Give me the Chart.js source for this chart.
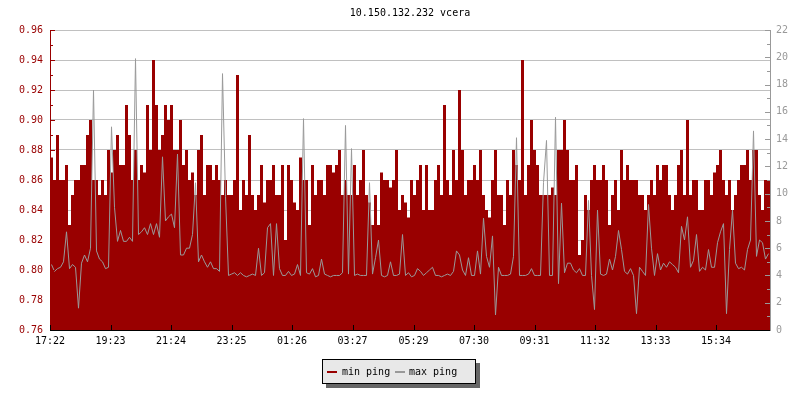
<!DOCTYPE html>
<html>
<head>
<meta charset="utf-8">
<script src="https://cdn.jsdelivr.net/npm/chart.js@4.4.1/dist/chart.umd.min.js"></script>
<style>
  html, body { margin: 0; padding: 0; background: #fff; }
  #wrap { position: relative; width: 800px; height: 400px; }
  #c { position: absolute; left: 0; top: 0; }
  #legend { position: absolute; left: 322px; top: 359px; width: 154px; height: 25px; box-sizing: border-box;
    border: 1px solid #000; background: #e8e8e8; box-shadow: 4px 4px 0 #666;
    font: 10px "DejaVu Sans Mono", monospace; color: #000; }
  #legend .sw { position: absolute; top: 11px; width: 10px; height: 2px; }
  #legend .tx { position: absolute; top: 0; line-height: 23px; white-space: pre; }
</style>
</head>
<body>
<div id="wrap">
  <canvas id="c" width="800" height="400"></canvas>
  <div id="legend">
    <span class="sw" style="left:4px;background:#990000"></span><span class="tx" style="left:19px">min ping</span>
    <span class="sw" style="left:72px;background:#999999"></span><span class="tx" style="left:86px">max ping</span>
  </div>
</div>
<script>
const chartTitle = '10.150.132.232 vcera';
const seriesNames = ['min ping', 'max ping'];
const tickLabels = ['17:22','19:23','21:24','23:25','01:26','03:27','05:29','07:30','09:31','11:32','13:33','15:34'];
const tickMinutes = [0,121,242,363,484,605,727,848,969,1090,1211,1332];
const totalMinutes = 1440;
const sampleMinutes = 6;

const minPing = [
  0.90,0.875,0.86,0.89,0.86,0.86,0.87,0.83,0.85,0.86,
  0.86,0.87,0.87,0.89,0.90,0.86,0.86,0.85,0.86,0.85,
  0.88,0.865,0.88,0.89,0.87,0.87,0.91,0.89,0.86,0.88,
  0.86,0.87,0.865,0.91,0.88,0.94,0.91,0.88,0.89,0.91,
  0.90,0.91,0.88,0.88,0.90,0.87,0.88,0.86,0.865,0.85,
  0.88,0.89,0.85,0.87,0.87,0.86,0.87,0.86,0.85,0.86,
  0.85,0.85,0.86,0.93,0.84,0.86,0.85,0.89,0.85,0.84,
  0.85,0.87,0.845,0.86,0.86,0.87,0.85,0.85,0.87,0.82,
  0.87,0.86,0.845,0.84,0.875,0.86,0.86,0.83,0.87,0.85,
  0.86,0.86,0.85,0.87,0.87,0.865,0.87,0.88,0.85,0.86,
  0.85,0.85,0.87,0.85,0.86,0.88,0.85,0.845,0.83,0.85,
  0.83,0.865,0.86,0.86,0.855,0.86,0.88,0.84,0.85,0.845,
  0.835,0.86,0.85,0.86,0.87,0.84,0.87,0.84,0.84,0.86,
  0.87,0.85,0.91,0.86,0.85,0.88,0.86,0.92,0.88,0.85,
  0.86,0.86,0.87,0.86,0.88,0.85,0.84,0.835,0.86,0.88,
  0.85,0.85,0.83,0.86,0.85,0.88,0.87,0.86,0.94,0.85,
  0.87,0.90,0.88,0.87,0.85,0.85,0.85,0.85,0.855,0.85,
  0.88,0.88,0.90,0.88,0.86,0.86,0.87,0.81,0.82,0.85,
  0.84,0.86,0.87,0.86,0.86,0.87,0.86,0.83,0.85,0.86,
  0.84,0.88,0.86,0.87,0.86,0.86,0.86,0.85,0.85,0.84,
  0.85,0.86,0.85,0.87,0.86,0.87,0.87,0.85,0.84,0.85,
  0.87,0.88,0.85,0.90,0.85,0.86,0.86,0.84,0.84,0.86,
  0.86,0.85,0.865,0.87,0.88,0.86,0.85,0.86,0.84,0.85,
  0.86,0.87,0.87,0.88,0.86,0.88,0.88,0.85,0.84,0.86
];

const maxPing = [
  4.8,4.3,4.5,4.6,5.0,7.2,4.5,4.8,4.6,1.6,
  4.9,5.5,5.0,6.0,17.6,5.8,5.2,5.0,4.5,4.6,
  14.9,9.0,6.5,7.3,6.5,6.5,6.8,6.5,19.9,7.0,
  7.2,7.5,7.0,7.8,7.0,7.8,6.8,12.7,8.0,8.3,
  8.5,7.5,12.9,5.5,5.5,6.0,6.0,7.0,10.8,5.0,
  5.5,5.0,4.6,5.0,4.5,4.5,4.3,18.8,9.8,4.0,
  4.1,4.2,4.0,4.2,4.0,3.9,4.0,4.1,4.0,6.0,
  4.0,4.2,7.5,7.8,4.0,7.8,4.5,4.0,4.0,4.3,
  4.0,4.1,4.8,4.0,15.5,4.2,4.1,4.5,3.9,4.0,
  5.2,4.1,4.0,3.9,4.0,4.0,4.0,4.2,15.0,4.1,
  13.3,4.0,4.1,4.0,4.0,4.0,10.8,4.1,5.3,6.6,
  4.0,3.9,4.0,5.0,4.0,4.0,4.1,7.0,4.0,4.2,
  3.9,4.0,4.5,4.3,4.0,4.2,4.4,4.6,4.0,4.0,
  3.9,4.0,4.1,4.0,4.3,5.8,5.5,4.4,4.0,5.3,
  4.0,4.0,5.8,4.1,8.2,5.4,4.6,6.9,1.1,4.6,
  4.0,4.0,4.0,4.1,5.4,14.1,4.0,4.0,4.0,4.1,
  4.5,4.0,4.0,4.0,10.8,13.9,4.0,4.0,15.6,3.4,
  9.3,4.2,4.9,4.9,4.4,4.2,4.5,4.0,4.0,9.5,
  4.0,1.5,8.8,4.1,4.0,4.1,5.2,4.4,5.4,7.3,
  5.9,4.3,4.1,4.5,4.0,1.2,4.6,4.3,4.0,9.2,
  6.0,4.0,5.6,4.4,4.9,4.6,5.0,4.8,4.6,4.2,
  7.6,6.6,8.3,4.6,5.1,7.0,4.3,4.6,4.4,5.9,
  4.6,4.6,6.4,7.2,7.8,1.2,5.9,8.8,4.9,4.5,
  4.6,4.4,5.9,6.6,14.6,5.4,6.6,6.4,5.2,5.6
];

const RED = '#990000', GRAY = '#999999', GRID = '#c0c0c0';
const FONT = '"DejaVu Sans Mono", monospace';

const minPoints = minPing.map((v, i) => ({ x: i * sampleMinutes, y: v }));
minPoints.push({ x: totalMinutes, y: minPing[minPing.length - 1] });
const maxPoints = maxPing.map((v, i) => ({ x: i * sampleMinutes + sampleMinutes / 2, y: v }));

const decor = {
  id: 'decor',
  afterDatasetsDraw(chart) {
    const { ctx, chartArea: a, scales } = chart;
    const { x, y, y2 } = scales;
    ctx.save();
    ctx.lineWidth = 1;
    // left axis minor/major ticks
    ctx.strokeStyle = RED;
    for (let k = 0; k <= 20; k++) {
      const py = Math.round(y.getPixelForValue(0.76 + k * 0.01)) + 0.5;
      const len = k % 2 === 0 ? 5 : 3;
      ctx.beginPath(); ctx.moveTo(a.left, py); ctx.lineTo(a.left + len, py); ctx.stroke();
    }
    ctx.beginPath(); ctx.moveTo(a.left + 0.5, a.top); ctx.lineTo(a.left + 0.5, a.bottom + 1); ctx.stroke();
    // right axis
    ctx.strokeStyle = GRAY;
    for (let k = 0; k <= 22; k++) {
      const py = Math.round(y2.getPixelForValue(k)) + 0.5;
      const len = k % 2 === 0 ? 5 : 3;
      ctx.beginPath(); ctx.moveTo(a.right, py); ctx.lineTo(a.right - len, py); ctx.stroke();
    }
    ctx.beginPath(); ctx.moveTo(a.right + 0.5, a.top); ctx.lineTo(a.right + 0.5, a.bottom + 1); ctx.stroke();
    // bottom axis
    ctx.strokeStyle = '#000';
    ctx.beginPath(); ctx.moveTo(a.left, a.bottom + 0.5); ctx.lineTo(a.right, a.bottom + 0.5); ctx.stroke();
    tickMinutes.forEach(m => {
      const px = Math.round(x.getPixelForValue(m)) + 0.5;
      ctx.beginPath(); ctx.moveTo(px, a.bottom); ctx.lineTo(px, a.bottom - 5); ctx.stroke();
    });
    ctx.restore();
  },
  afterDraw(chart) {
    const { ctx, chartArea: a } = chart;
    ctx.save();
    ctx.fillStyle = '#000';
    ctx.font = '10px ' + FONT;
    ctx.textAlign = 'center';
    ctx.textBaseline = 'middle';
    ctx.fillText(chartTitle, (a.left + a.right) / 2, 13);
    ctx.restore();
  }
};

Chart.defaults.font.family = FONT;
Chart.defaults.font.size = 10;

new Chart(document.getElementById('c'), {
  type: 'line',
  data: {
    datasets: [
      {
        label: seriesNames[1], data: maxPoints, yAxisID: 'y2', order: 0,
        borderColor: GRAY, borderWidth: 1, pointRadius: 0, fill: false, tension: 0
      },
      {
        label: seriesNames[0], data: minPoints, yAxisID: 'y', order: 1,
        stepped: 'after', fill: 'start', backgroundColor: RED, borderColor: RED,
        borderWidth: 0, pointRadius: 0
      }
    ]
  },
  options: {
    responsive: false, animation: false, devicePixelRatio: 1,
    layout: { padding: { top: 30, left: 0, right: 0, bottom: 0 } },
    plugins: { legend: { display: false }, title: { display: false }, tooltip: { enabled: false } },
    scales: {
      x: {
        type: 'linear', min: 0, max: totalMinutes,
        afterFit: s => { s.height = 70; },
        afterBuildTicks: s => { s.ticks = tickMinutes.map(v => ({ value: v })); },
        ticks: { autoSkip: false, maxRotation: 0, color: '#000', padding: 5,
          callback: (v, i) => tickLabels[i] },
        grid: { display: false, drawTicks: false },
        border: { display: false }
      },
      y: {
        position: 'left', min: 0.76, max: 0.96,
        afterFit: s => { s.width = 50; },
        ticks: { stepSize: 0.02, color: RED, padding: 7, callback: v => Number(v).toFixed(2) },
        grid: { color: GRID, lineWidth: 1, drawTicks: false },
        border: { display: false }
      },
      y2: {
        position: 'right', min: 0, max: 22,
        afterFit: s => { s.width = 30; },
        ticks: { stepSize: 2, color: GRAY, padding: 6 },
        grid: { display: false, drawTicks: false },
        border: { display: false }
      }
    }
  },
  plugins: [decor]
});
</script>
</body>
</html>
